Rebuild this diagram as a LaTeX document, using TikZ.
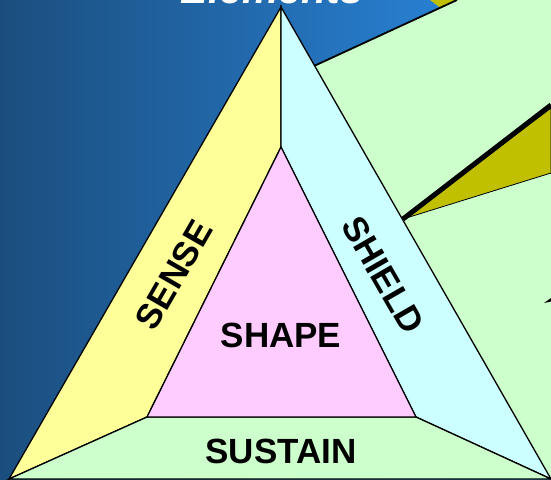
\documentclass[tikz,border=0pt]{standalone}
\usepackage{fontspec}
\setmainfont{Liberation Sans}
\usetikzlibrary{positioning}

\definecolor{bgdark}{RGB}{27,78,126}
\definecolor{bglight}{RGB}{43,140,230}
\definecolor{sensefill}{RGB}{255,255,153}
\definecolor{shieldfill}{RGB}{204,255,255}
\definecolor{shapefill}{RGB}{255,204,255}
\definecolor{sustainfill}{RGB}{204,255,204}
\definecolor{olive}{RGB}{192,192,0}

\begin{document}
\begin{tikzpicture}[x=1pt, y=-1pt,
        region/.style={draw=black, line width=1.3pt, line join=miter},
        word/.style={font=\fontsize{35}{40}\selectfont\bfseries, text=black, inner sep=0pt},
        title/.style={font=\fontsize{41}{48}\selectfont\bfseries\itshape, text=white, inner sep=0pt}
    ]
        \useasboundingbox (0,0) rectangle (551,479);
        \clip (0,0) rectangle (551,479);

        % Background
        \shade[left color=bgdark, right color=bglight] (0,0) rectangle (551,479);
        \node[title, anchor=base] (heading) at (272,4) {Elements};

        % Corner points
        \coordinate (otop) at (281,7);
        \coordinate (oleft) at (9,479);
        \coordinate (oright) at (551,479);
        \coordinate (itop) at (281,147);
        \coordinate (ileft) at (147,417);
        \coordinate (iright) at (416,417);

        % Right-hand panel and wedges
        \fill[olive] (430,0) -- (458,0) -- (440,7.5) -- cycle;
        \fill[sustainfill] (314,66) -- (457,0) -- (551,0) -- (551,479) -- cycle;
        \draw[line width=1.8pt] (314,66) -- (457,0);
        \coordinate (wtip) at (403,219);
        \filldraw[fill=olive, draw=black, line width=0.8pt] (wtip) -- (551,108) -- (551,173) -- cycle;
        \draw[line width=5pt] (wtip) -- (551,105);
        \fill[black] (544,303) -- (551,298) -- (551,301.5) -- cycle;

        % Triangle
        \filldraw[region, fill=sensefill] (otop) -- (itop) -- (ileft) -- (oleft) -- cycle;
        \filldraw[region, fill=shieldfill] (otop) -- (oright) -- (iright) -- (itop) -- cycle;
        \filldraw[region, fill=sustainfill] (oleft) -- (ileft) -- (iright) -- (oright) -- cycle;
        \filldraw[region, fill=shapefill] (itop) -- (ileft) -- (iright) -- cycle;

        % Labels
        \node[word] (shape) at (281,335) {SHAPE};
        \node[word] (sustain) at (281,451) {SUSTAIN};
        \node[word, rotate=60] (sense) at (174,275) {SENSE};
        \node[word, rotate=-60] (shield) at (383,275) {SHIELD};
    \end{tikzpicture}
\end{document}
